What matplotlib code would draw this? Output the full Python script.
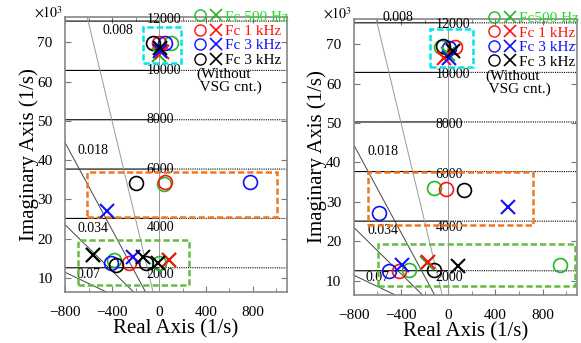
import numpy as np
import matplotlib
matplotlib.use("Agg")
import matplotlib.pyplot as plt
from matplotlib.lines import Line2D
from matplotlib.legend_handler import HandlerTuple
from matplotlib.patches import Rectangle

plt.rcParams['font.family'] = ['Liberation Serif', 'DejaVu Serif']
plt.rcParams['mathtext.fontset'] = 'stix'

# colours of the four cases
C_GREEN = '#22b822'
C_RED = '#ff1010'
C_BLUE = '#1010ff'
C_BLACK = '#000000'
labels = ['Fc 500 Hz', 'Fc 1 kHz', 'Fc 3 kHz', 'Fc 3 kHz']
labels_right = ['Fc500 Hz', 'Fc 1 kHz', 'Fc 3 kHz', 'Fc 3 kHz']
legend_text_colors = ['#22dd22', C_RED, C_BLUE, C_BLACK]
colors = [C_GREEN, C_RED, C_BLUE, C_BLACK]

# pole locations: (real [1/s], imag [x1e3 1/s])
left_circles = {
    C_GREEN: [(100, 69.8), (45, 33.8), (-385, 14.6), (0, 13.8)],
    C_RED:   [(0, 69.8), (50, 34.3), (-254, 13.8)],
    C_BLUE:  [(55, 69.8), (779, 34.5), (-410, 13.8)],
    C_BLACK: [(-50, 69.8), (-197, 34.2), (-369, 13.3), (-115, 13.8)],
}
left_crosses = {
    C_GREEN: [(0, 66.8), (-560, 15.7), (82, 14.6)],
    C_RED:   [(25, 67.5), (82, 14.6)],
    C_BLUE:  [(10, 67.8), (-443, 27.0), (-221, 15.3)],
    C_BLACK: [(8, 68.5), (-565, 15.9), (-139, 15.3), (-8, 13.8)],
}
right_circles = {
    C_GREEN: [(-60, 69.3), (-117, 33.4), (-333, 12.8), (950, 14.1)],
    C_RED:   [(55, 69.3), (-17, 33.2), (-417, 12.5)],
    C_BLUE:  [(10, 69.0), (-583, 27.3), (-500, 12.5)],
    C_BLACK: [(-42, 69.5), (133, 32.9), (-125, 12.8)],
}
right_crosses = {
    C_GREEN: [(0, 67.5), (-183, 14.6)],
    C_RED:   [(-40, 66.5), (-175, 14.8)],
    C_BLUE:  [(10, 66.5), (508, 28.8), (-392, 14.1)],
    C_BLACK: [(40, 68.2), (83, 13.8)],
}

# highlight boxes: (re0, re1, im0, im1)
left_boxes = [(-139, 188, 64.7, 73.8, '#00e5ee'),
              (-615, 1008, 25.5, 37.0, '#ee7722'),
              (-690, 254, 8.2, 19.7, '#66bb44')]
right_boxes = [(-158, 208, 64.2, 73.8, '#00e5ee'),
               (-683, 717, 24.2, 37.5, '#ee7722'),
               (-592, 1075, 8.7, 19.2, '#66bb44')]

# s-grid
damping = [0.008, 0.018, 0.034, 0.07]
freqs_hz = [2000, 4000, 6000, 8000, 10000, 12000]
left_zeta_lbl = [(-480, 72.2), (-690, 41.5), (-690, 21.6), (-700, 10.0)]
right_zeta_lbl = [(-560, 75.8), (-680, 42.0), (-680, 21.8), (-700, 10.0)]
left_freq_lbl = [(-105, 10.0), (-105, 21.8), (-105, 36.6), (-105, 49.4), (-105, 62.0), (-105, 74.8)]
right_freq_lbl = [(-105, 10.0), (-105, 22.6), (-105, 36.0), (-105, 48.7), (-105, 61.5), (-105, 74.2)]

XLIM = (-800, 1090)
YLIM = (6.4, 76.4)


def draw_panel(ax, circles, crosses, boxes, zlbl, flbl, leg_labels):
    xs = np.linspace(XLIM[0], XLIM[1], 400)
    for f in freqs_hz:
        wn = 2 * np.pi * f / 1000.0
        yy = np.sqrt((wn * 1000) ** 2 - xs ** 2) / 1000.0
        ax.plot(xs[xs <= 0], yy[xs <= 0], color='black', lw=0.8)
        ax.plot(xs[xs >= 0], yy[xs >= 0], color='black', lw=0.8, ls=(0, (1, 1)))
    for z in damping:
        yy = np.linspace(0, YLIM[1], 50)
        ax.plot(-z / np.sqrt(1 - z ** 2) * yy * 1000, yy,
                color='#999999' if z == 0.008 else '#444444', lw=0.7)
    ax.axvline(0, color='#999999', lw=0.7)
    for z, (x, y) in zip(damping, zlbl):
        ax.text(x, y, f'{z:g}', fontsize=10)
    for f, (x, y) in zip(freqs_hz, flbl):
        ax.text(x, y, str(f), fontsize=10)

    for (x0, x1, y0, y1, c) in boxes:
        ax.add_patch(Rectangle((x0, y0), x1 - x0, y1 - y0, fill=False,
                               ec=c, lw=1.8, ls=(0, (2.5, 1.2)), zorder=3))

    for c in colors:
        pts = np.array(circles.get(c, []))
        if len(pts):
            ax.plot(pts[:, 0], pts[:, 1], 'o', ms=10, mfc='none', mec=c, mew=1.2, zorder=4)
        pts = np.array(crosses.get(c, []))
        if len(pts):
            ax.plot(pts[:, 0], pts[:, 1], 'x', ms=10, mec=c, mew=1.5, zorder=5)

    ax.set_xlim(XLIM)
    ax.set_ylim(YLIM)
    ax.set_xticks([-800, -400, 0, 400, 800])
    ax.set_xticks(np.arange(-800, 1001, 200), minor=True)
    ax.set_yticks([10, 20, 30, 40, 50, 60, 70])
    ax.tick_params(direction='in', top=True, right=True, labelsize=11,
                   color='#777777', length=4)
    ax.tick_params(axis='x', pad=10)
    ax.tick_params(axis='y', pad=9)
    ax.tick_params(which='minor', direction='in', top=True, right=True,
                   color='#777777', length=3)
    for s in ax.spines.values():
        s.set_color('#888888')
        s.set_linewidth(1.2)
    ax.set_xlabel('Real Axis (1/s)', fontsize=15, labelpad=0)
    ax.set_ylabel('Imaginary Axis (1/s)', fontsize=15, labelpad=-1)
    ax.text(-0.14, 1.0, r'$\times10^3$', transform=ax.transAxes, fontsize=10)

    handles = [(Line2D([], [], ls='', marker='o', ms=8, mfc='none', mec=c, mew=1.0),
                Line2D([], [], ls='', marker='x', ms=8, mec=c, mew=1.2)) for c in colors]
    leg = ax.legend(handles, leg_labels, handler_map={tuple: HandlerTuple(ndivide=None, pad=0.4)},
                    loc='upper right', bbox_to_anchor=(1.05, 1.06), frameon=False,
                    fontsize=11, handlelength=1.7, handletextpad=0.3,
                    labelspacing=0.05, borderaxespad=0.2)
    for t, c in zip(leg.get_texts(), legend_text_colors):
        t.set_color(c)
    ax.text(0.59, 0.815, '(Without\n VSG cnt.)', transform=ax.transAxes,
            fontsize=11, va='top', linespacing=0.95)


fig = plt.figure(figsize=(5.81, 3.43), dpi=100)
ax1 = fig.add_axes([0.112, 0.149, 0.382, 0.801])
ax2 = fig.add_axes([0.609, 0.140, 0.384, 0.805])
draw_panel(ax1, left_circles, left_crosses, left_boxes, left_zeta_lbl, left_freq_lbl, labels)
draw_panel(ax2, right_circles, right_crosses, right_boxes, right_zeta_lbl, right_freq_lbl, labels_right)

fig.savefig('out.png', dpi=100)
